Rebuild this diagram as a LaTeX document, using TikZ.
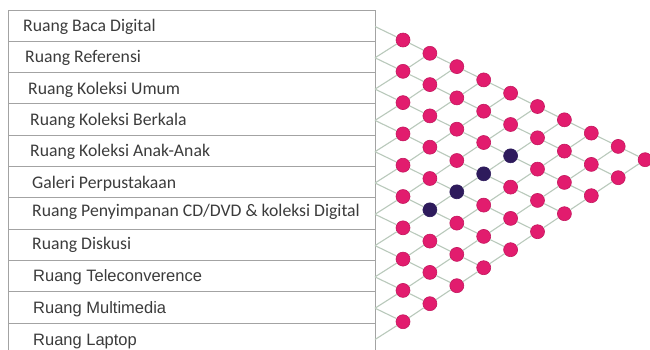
\documentclass[tikz,border=0pt]{standalone}
\usepackage{fontspec}
\setmainfont{Carlito}
\newfontfamily\arialf{Liberation Sans}
\definecolor{boxgray}{HTML}{A3A3A3}
\definecolor{txtgray}{HTML}{3C3C3C}
\definecolor{gridgreen}{HTML}{B9C9BB}
\definecolor{dotpink}{HTML}{E21C6E}
\definecolor{dotpinkd}{HTML}{C4175E}
\definecolor{dotdark}{HTML}{2E1B5C}
\begin{document}
\begin{tikzpicture}[x=1pt,y=-1pt,
  rowbox/.style={draw=boxgray, line width=0.9pt},
  lbl/.style={anchor=base west, inner sep=0pt, text=txtgray, font=\fontsize{17.7}{20}\selectfont},
  lblb/.style={anchor=base west, inner sep=0pt, text=txtgray, font=\arialf\fontsize{16.5}{19}\selectfont},
  dot/.style={circle, fill=dotpink, draw=dotpinkd, line width=0.6pt, minimum size=14pt, inner sep=0pt},
  dotd/.style={dot, fill=dotdark, draw=dotdark},
  gridline/.style={draw=gridgreen, line width=1.1pt}]
\useasboundingbox (0,0) rectangle (650,349);
\fill[white] (0,0) rectangle (650,349);
% table rows
\foreach \i in {0,...,10}
  \draw[rowbox] (8,{10+31.3*\i}) rectangle (375,{41.3+31.3*\i});
% labels
\node[lbl] (r0) at (23,31.2) {Ruang Baca Digital};
\node[lbl] (r1) at (25,62.2) {Ruang Referensi};
\node[lbl] (r2) at (28,94.2) {Ruang Koleksi Umum};
\node[lbl] (r3) at (30,125.7) {Ruang Koleksi Berkala};
\node[lbl] (r4) at (30,156.2) {Ruang Koleksi Anak-Anak};
\node[lbl] (r5) at (32,188.2) {Galeri Perpustakaan};
\node[lbl] (r6) at (32,216.7) {Ruang Penyimpanan CD/DVD \& koleksi Digital};
\node[lbl] (r7) at (32,249.2) {Ruang Diskusi};
\node[lblb] (r8) at (33,281.4) {Ruang Teleconverence};
\node[lblb] (r9) at (33,313.9) {Ruang Multimedia};
\node[lblb] (r10) at (33,345.9) {Ruang Laptop};
% edge points on the table
\foreach \r in {0,...,10}
  \coordinate (e\r) at (375,{26.5+31.3*\r});
% matrix nodes
\foreach \k in {1,...,10} {
  \pgfmathtruncatemacro\mmax{10-\k}
  \foreach \m in {0,...,\mmax} {
    \pgfmathtruncatemacro\isd{and(\k+\m==7,and(\k>1,\k<6))}
    \ifnum\isd=1 \def\st{dotd}\else\def\st{dot}\fi
    \node[\st] (n-\k-\m) at ({403+26.9*(\k-1)},{40+13.3*(\k-1)+31.3*\m}) {};
  }
}
% grid connectors
\foreach \k in {1,...,9} {
  \pgfmathtruncatemacro\mmax{10-\k}
  \pgfmathtruncatemacro\kn{\k+1}
  \foreach \m in {0,...,\mmax} {
    \pgfmathtruncatemacro\mprev{\m-1}
    \ifnum\m<\mmax \draw[gridline] (n-\k-\m) -- (n-\kn-\m); \fi
    \ifnum\m>0 \draw[gridline] (n-\k-\m) -- (n-\kn-\mprev); \fi
  }
}
\foreach \r in {0,...,9}
  \draw[gridline] (e\r) -- (n-1-\r);
\foreach \r in {1,...,10} {
  \pgfmathtruncatemacro\rp{\r-1}
  \draw[gridline] (e\r) -- (n-1-\rp);
}
\end{tikzpicture}
\end{document}
